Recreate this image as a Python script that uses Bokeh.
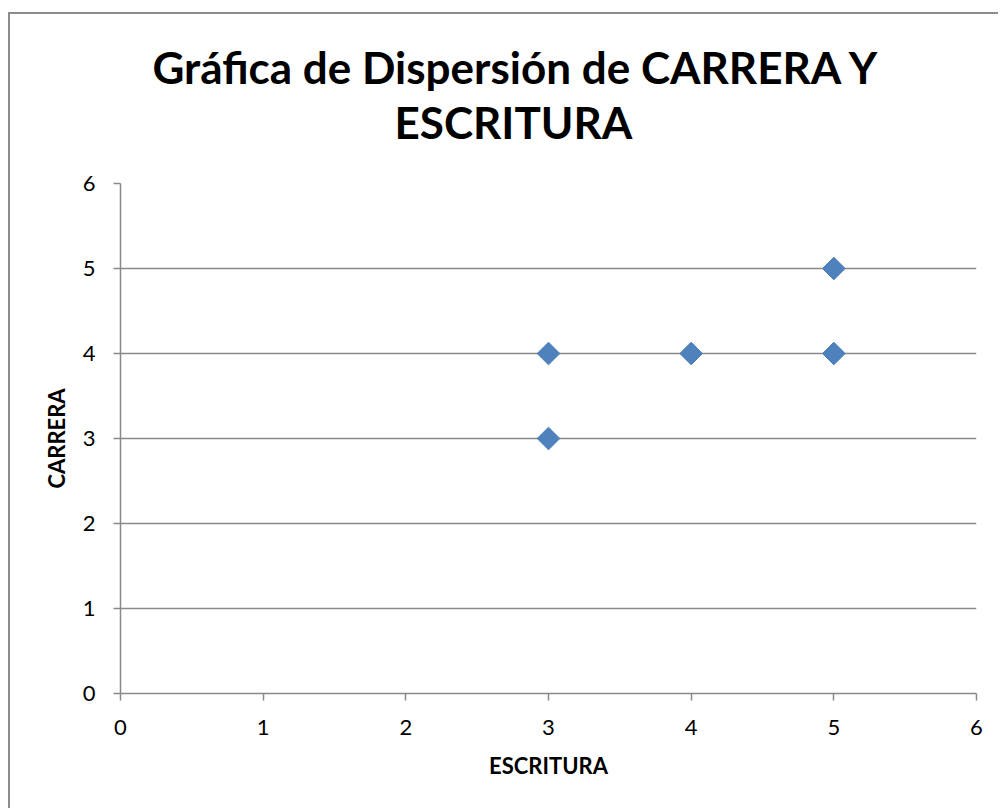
from bokeh.plotting import figure
from bokeh.models import Range1d, FixedTicker, Title
from bokeh.embed import file_html
from bokeh.resources import INLINE
import math

# Data
escritura = [3, 3, 4, 5, 5]
carrera = [4, 3, 4, 5, 4]
ticks = [0, 1, 2, 3, 4, 5, 6]
title_line1 = "Gráfica de Dispersión de  CARRERA Y"
title_line2 = "ESCRITURA"
x_label = "ESCRITURA"
y_label = "CARRERA"

GRAY = "#898989"
FONT = "Lato"

p = figure(width=990, height=796, output_backend="svg", toolbar_location=None,
           x_range=Range1d(0, 6), y_range=Range1d(0, 6),
           min_border_left=110, min_border_right=24, min_border_top=169, min_border_bottom=117)
p.margin = (12, 0, 0, 8)
p.styles = {"border-left": "2px solid #8c8c8c", "border-top": "2px solid #8c8c8c"}
p.outline_line_color = None
p.background_fill_color = "white"
p.border_fill_color = "white"

t2 = Title(text=title_line2, align="left", offset=274, text_font=FONT, text_font_size="44px",
           text_font_style="bold", text_color="black", standoff=72)
t1 = Title(text=title_line1, align="left", offset=32, text_font=FONT, text_font_size="44px",
           text_font_style="bold", text_color="black", standoff=-70)
p.add_layout(t2, "above")
p.add_layout(t1, "above")

for ax in (p.xaxis[0], p.yaxis[0]):
    ax.ticker = FixedTicker(ticks=ticks)
    ax.axis_line_color = GRAY
    ax.axis_line_width = 1.5
    ax.major_tick_line_color = GRAY
    ax.major_tick_line_width = 1.5
    ax.major_tick_out = 7
    ax.major_tick_in = 0
    ax.minor_tick_line_color = None
    ax.major_label_text_font = FONT
    ax.major_label_text_font_size = "22px"
    ax.major_label_text_color = "black"
    ax.axis_label_text_font = FONT
    ax.axis_label_text_font_size = "22px"
    ax.axis_label_text_font_style = "bold"
    ax.axis_label_text_color = "black"

p.xaxis.axis_label = x_label
p.yaxis.axis_label = y_label
p.xaxis.major_label_standoff = 19
p.yaxis.major_label_standoff = 18
p.xaxis.axis_label_standoff = 14
p.yaxis.axis_label_standoff = 10

p.xgrid.grid_line_color = None
p.ygrid.grid_line_color = GRAY
p.ygrid.grid_line_width = 1.5
p.ygrid.ticker = FixedTicker(ticks=ticks)

p.scatter(escritura, carrera, marker="square", size=16, angle=math.pi / 4,
          fill_color="#4F81BD", line_color="#4A7EBB", line_width=1)

open("out.html", "w").write(file_html(p, INLINE))
